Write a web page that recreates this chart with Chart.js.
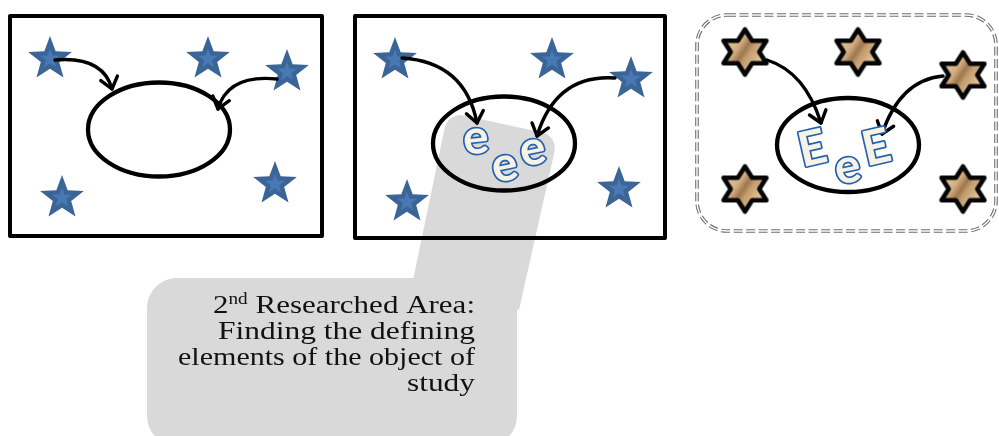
<!DOCTYPE html>
<html><head><meta charset="utf-8">
<script src="https://cdn.jsdelivr.net/npm/chart.js@4"></script>
<style>html,body{margin:0;padding:0;background:#fff;overflow:hidden}canvas{display:block}</style>
</head><body>
<canvas id="c" width="999" height="436"></canvas>
<script>
// ---- diagram data, in picture units (x 0..999 left→right, y 0..436 top→bottom) ----
const frameLeft   = [10, 355, 697];
const frameRight  = [322, 665, 996];
const frameTop    = [16, 16, 15];
const frameBottom = [236, 238, 231];
const blueStarX = [50, 208, 287, 62, 275, 395, 552, 631, 407, 619];
const blueStarY = [59, 59, 72, 198, 184, 60, 60, 79, 202, 189];
const hexStarX = [745, 858, 963, 745, 963];
const hexStarY = [52, 52, 75, 189, 189];
const ellipseX = [159, 504, 848];
const ellipseY = [129.5, 143.5, 145];
const arrowFromX = [55, 277, 402, 615, 767, 943];
const arrowFromY = [60, 79, 58, 78, 60, 76];
const arrowBendX = [103, 228, 465, 556, 805, 900];
const arrowBendY = [56, 74, 62, 74, 72, 80];
const arrowToX = [112, 218, 477, 537, 821, 882];
const arrowToY = [89, 109, 123, 136, 123, 134];
const letterText = ['e', 'e', 'e', 'E', 'e', 'E'];
const letterX = [476, 505, 533, 812, 848, 876];
const letterY = [141, 168, 152, 147, 170, 146];
const letterAngle = [-6, -12, -12, -13, -12, -13];
const bandX = [448, 558, 519, 412];
const bandY = [112, 136, 310, 285];
const calloutLeft = 147, calloutRight = 517, calloutTop = 278, calloutBottom = 446;
const calloutLines = ['2nd Researched Area:', 'Finding the defining', 'elements of the object of', 'study'];
const calloutBaseY = [313, 339, 365, 391];
const calloutRightX = 475;
const calloutFitWidth = [262, 257, 297, 68];

// ---- point images ----
function makeBlueStar() {
  const R = 23, pad = 2, s = Math.ceil(2 * (R + pad));
  const c = document.createElement('canvas'); c.width = s; c.height = s;
  const g = c.getContext('2d'), cx = s / 2, cy = s / 2;
  function star(Ro, ri, col) {
    g.beginPath();
    for (let i = 0; i < 10; i++) {
      const a = -Math.PI / 2 + i * Math.PI / 5, rr = i % 2 ? ri : Ro;
      g.lineTo(cx + rr * Math.cos(a), cy + rr * Math.sin(a));
    }
    g.closePath(); g.fillStyle = col; g.fill();
  }
  star(R, R * 0.42, '#3B6597');
  star(R * 0.45, R * 0.45 * 0.42, '#4879B4');
  return c;
}
function makeHexStar() {
  const R = 22.5, sx = 1.1, pad = 5;
  const w = Math.ceil(2 * (R * 0.866 * sx + pad)), h = Math.ceil(2 * (R + pad));
  const c = document.createElement('canvas'); c.width = w; c.height = h;
  const g = c.getContext('2d'), cx = w / 2, cy = h / 2;
  g.beginPath();
  for (let i = 0; i < 12; i++) {
    const a = -Math.PI / 2 + i * Math.PI / 6, rr = i % 2 ? R / Math.sqrt(3) : R;
    g.lineTo(cx + rr * Math.cos(a) * sx, cy + rr * Math.sin(a));
  }
  g.closePath();
  const gr = g.createLinearGradient(cx - 18, cy - 12, cx + 18, cy + 12);
  gr.addColorStop(0, '#E6C9A1'); gr.addColorStop(0.3, '#D4AE82');
  gr.addColorStop(0.47, '#9F774D'); gr.addColorStop(0.6, '#C59D71');
  gr.addColorStop(1, '#EBD2AC');
  g.fillStyle = gr; g.fill();
  g.lineWidth = 4.6; g.lineJoin = 'round'; g.strokeStyle = '#050505'; g.stroke();
  return c;
}

function rrPath(ctx, x0, y0, x1, y1, r) {
  ctx.beginPath();
  ctx.moveTo(x0 + r, y0);
  ctx.arcTo(x1, y0, x1, y1, r); ctx.arcTo(x1, y1, x0, y1, r);
  ctx.arcTo(x0, y1, x0, y0, r); ctx.arcTo(x0, y0, x1, y0, r);
  ctx.closePath();
}

const backPlugin = {
  id: 'back',
  beforeDatasetsDraw(chart) {
    const ctx = chart.ctx, X = v => chart.scales.x.getPixelForValue(v), Y = v => chart.scales.y.getPixelForValue(v);
    ctx.save();
    // callout (grey)
    ctx.fillStyle = '#D9D9D9';
    rrPath(ctx, X(calloutLeft), Y(calloutTop), X(calloutRight), Y(calloutBottom), 30);
    ctx.fill();
    const px = bandX.map(X), py = bandY.map(Y);
    ctx.beginPath();
    ctx.moveTo((px[0] + px[3]) / 2, (py[0] + py[3]) / 2);
    ctx.arcTo(px[0], py[0], px[1], py[1], 16);
    ctx.arcTo(px[1], py[1], px[2], py[2], 16);
    ctx.lineTo(px[2], py[2]); ctx.lineTo(px[3], py[3]);
    ctx.closePath(); ctx.fill();
    // frames
    ctx.strokeStyle = '#000'; ctx.lineWidth = 4; ctx.lineJoin = 'round';
    for (let i = 0; i < 2; i++) {
      ctx.strokeRect(X(frameLeft[i]), Y(frameTop[i]), X(frameRight[i]) - X(frameLeft[i]), Y(frameBottom[i]) - Y(frameTop[i]));
    }
    // dashed double frame
    rrPath(ctx, X(frameLeft[2]), Y(frameTop[2]), X(frameRight[2]), Y(frameBottom[2]), 30);
    ctx.setLineDash([9, 3.5]); ctx.lineWidth = 3.6; ctx.strokeStyle = '#6E6E6E'; ctx.stroke();
    ctx.setLineDash([]); ctx.lineWidth = 1.4; ctx.strokeStyle = '#fff'; ctx.stroke();
    // ellipses
    ctx.strokeStyle = '#000'; ctx.lineWidth = 4.3;
    for (let i = 0; i < ellipseX.length; i++) {
      ctx.beginPath(); ctx.ellipse(X(ellipseX[i]), Y(ellipseY[i]), 71, 47, 0, 0, Math.PI * 2); ctx.stroke();
    }
    ctx.restore();
  },
  afterDatasetsDraw(chart) {
    const ctx = chart.ctx, X = v => chart.scales.x.getPixelForValue(v), Y = v => chart.scales.y.getPixelForValue(v);
    ctx.save();
    // arrows
    ctx.strokeStyle = '#000'; ctx.lineWidth = 3.4; ctx.lineCap = 'round'; ctx.lineJoin = 'round';
    for (let i = 0; i < arrowFromX.length; i++) {
      const sx = X(arrowFromX[i]), sy = Y(arrowFromY[i]), cx = X(arrowBendX[i]), cy = Y(arrowBendY[i]), ex = X(arrowToX[i]), ey = Y(arrowToY[i]);
      ctx.beginPath(); ctx.moveTo(sx, sy); ctx.quadraticCurveTo(cx, cy, ex, ey); ctx.stroke();
      const a = Math.atan2(ey - cy, ex - cx), L = 14, sp = 0.66;
      ctx.beginPath();
      ctx.moveTo(ex - L * Math.cos(a - sp), ey - L * Math.sin(a - sp));
      ctx.lineTo(ex, ey);
      ctx.lineTo(ex - L * Math.cos(a + sp), ey - L * Math.sin(a + sp));
      ctx.stroke();
    }
    // letters
    ctx.font = 'bold 48px Lato'; ctx.textAlign = 'center'; ctx.textBaseline = 'alphabetic';
    ctx.lineJoin = 'round';
    for (let i = 0; i < letterText.length; i++) {
      const m = ctx.measureText(letterText[i]);
      const dy = (m.actualBoundingBoxAscent - m.actualBoundingBoxDescent) / 2;
      ctx.save();
      ctx.translate(X(letterX[i]), Y(letterY[i]));
      ctx.rotate(letterAngle[i] * Math.PI / 180);
      ctx.lineWidth = 3.4; ctx.strokeStyle = '#2460B0'; ctx.strokeText(letterText[i], 0, dy);
      ctx.fillStyle = '#F7F3E4'; ctx.fillText(letterText[i], 0, dy);
      ctx.restore();
    }
    // callout text
    const fam = '"Liberation Serif", serif', fs = 26;
    ctx.fillStyle = '#111'; ctx.textBaseline = 'alphabetic'; ctx.textAlign = 'left';
    const rx = X(calloutRightX);
    for (let i = 0; i < calloutLines.length; i++) {
      const by = Y(calloutBaseY[i]);
      let parts;
      if (i === 0) {
        parts = [[calloutLines[0].slice(0, 1), fs, 0], [calloutLines[0].slice(1, 3), fs * 0.62, -fs * 0.36], [calloutLines[0].slice(3), fs, 0]];
      } else parts = [[calloutLines[i], fs, 0]];
      let tw = 0;
      parts.forEach(p => { ctx.font = p[1] + 'px ' + fam; p.push(ctx.measureText(p[0]).width); tw += p[3]; });
      const k = calloutFitWidth[i] / tw;
      ctx.save();
      ctx.translate(rx - tw * k, by); ctx.scale(k, 1);
      let cx0 = 0;
      parts.forEach(p => { ctx.font = p[1] + 'px ' + fam; ctx.fillText(p[0], cx0, p[2]); cx0 += p[3]; });
      ctx.restore();
    }
    ctx.restore();
  }
};

const blueStarImg = makeBlueStar();
const hexStarImg = makeHexStar();

new Chart(document.getElementById('c'), {
  type: 'scatter',
  data: {
    datasets: [
      { label: 'stars', data: blueStarX.map((x, i) => ({ x, y: blueStarY[i] })), pointStyle: blueStarImg, pointRadius: 1, clip: false },
      { label: 'hexagrams', data: hexStarX.map((x, i) => ({ x, y: hexStarY[i] })), pointStyle: hexStarImg, pointRadius: 1, clip: false }
    ]
  },
  options: {
    responsive: false, animation: false, devicePixelRatio: 1,
    layout: { padding: 0, autoPadding: false },
    events: [],
    plugins: { legend: { display: false }, tooltip: { enabled: false } },
    scales: {
      x: { type: 'linear', min: 0, max: 999, display: false, offset: false },
      y: { type: 'linear', min: 0, max: 436, reverse: true, display: false, offset: false }
    }
  },
  plugins: [backPlugin]
});
</script>
</body></html>
